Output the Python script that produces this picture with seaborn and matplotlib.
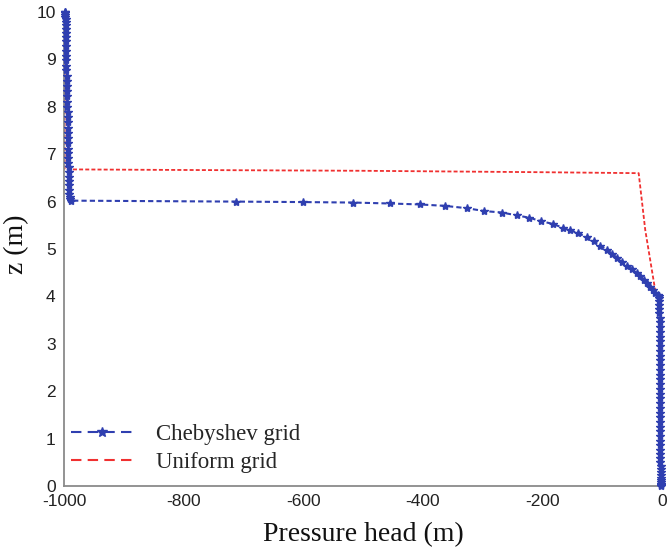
import matplotlib
matplotlib.use("Agg")
import matplotlib.pyplot as plt
from matplotlib.lines import Line2D
import seaborn as sns

# ---- data ----
# Chebyshev grid: upper vertical part (z 10 -> 6)
cheb_z_upper = [10.00, 9.99, 9.97, 9.94, 9.90, 9.85, 9.79, 9.72, 9.64, 9.56,
                9.47, 9.38, 9.28, 9.18, 9.08, 8.98, 8.87, 8.77, 8.66, 8.55,
                8.44, 8.33, 8.22, 8.11, 8.00, 7.89, 7.78, 7.67, 7.56, 7.45,
                7.34, 7.23, 7.12, 7.02, 6.92, 6.82, 6.72, 6.62, 6.52, 6.43,
                6.34, 6.25, 6.17, 6.10, 6.05, 6.02]
cheb_h_upper = [-998, -998, -998, -998, -998, -997, -997, -997, -997, -997,
                -997, -996, -996, -996, -996, -996, -996, -996, -995, -995,
                -995, -995, -995, -995, -995, -994, -994, -994, -994, -994,
                -994, -993, -993, -993, -993, -993, -992, -992, -992, -992,
                -991, -991, -991, -990, -990, -989]
# Chebyshev grid: front (z 6 -> 4)
cheb_z_front = [6.00, 5.99, 5.98, 5.96, 5.94, 5.91, 5.86, 5.80, 5.77, 5.71,
                5.66, 5.59, 5.53, 5.45, 5.40, 5.33, 5.25, 5.16, 5.07, 4.98,
                4.90, 4.81, 4.73, 4.65, 4.57, 4.49, 4.42, 4.35, 4.28, 4.20,
                4.14, 4.08, 4.03, 4.00]
cheb_h_front = [-712, -601, -517, -455, -405, -363, -326, -297, -268, -243,
                -222, -203, -183, -166, -154, -140, -126, -114, -103, -92,
                -83, -75, -67, -59, -50, -42, -36, -30, -25, -20,
                -15, -11, -7, -5]
# Chebyshev grid: lower vertical part (z 4 -> 0)
cheb_z_lower = [3.97, 3.90, 3.82, 3.73, 3.64, 3.55, 3.45, 3.35, 3.25, 3.15,
                3.05, 2.95, 2.85, 2.75, 2.65, 2.55, 2.45, 2.35, 2.25, 2.15,
                2.05, 1.95, 1.85, 1.75, 1.65, 1.55, 1.45, 1.35, 1.25, 1.15,
                1.05, 0.95, 0.86, 0.77, 0.68, 0.59, 0.51, 0.43, 0.36, 0.29,
                0.23, 0.17, 0.12, 0.08, 0.04, 0.02, 0.00]
cheb_h_lower = [-5, -5, -5, -5, -5, -4, -4, -4, -4, -4,
                -4, -4, -4, -4, -4, -4, -4, -3, -3, -3,
                -3, -3, -3, -3, -3, -3, -3, -3, -3, -3,
                -3, -3, -3, -3, -3, -3, -3, -2, -2, -2,
                -2, -2, -2, -2, -2, -2, -2]

unif_z = [10.0, 6.68, 6.67, 6.65, 6.62, 6.60, 5.40, 4.10, 3.90, 0.0]
unif_h = [-999, -999, -850, -500, -200, -39, -28, -11, -5, -2]

x_ticks = [-1000, -800, -600, -400, -200, 0]
y_ticks = [0, 1, 2, 3, 4, 5, 6, 7, 8, 9, 10]
legend_labels = ["Chebyshev grid", "Uniform grid"]

cheb_z = cheb_z_upper + cheb_z_front + cheb_z_lower
cheb_h = cheb_h_upper + cheb_h_front + cheb_h_lower

# ---- styling ----
sns.set_style("white")
plt.rcParams["font.family"] = ["Liberation Sans", "DejaVu Sans"]

BLUE = "#2f3fb0"
RED = "#f03030"
GRAY = "#8a8a8a"

fig = plt.figure(figsize=(6.68, 5.56), dpi=100)
ax = fig.add_axes([64 / 668, 70 / 556, 598 / 668, 474 / 556])

sns.lineplot(x=unif_h, y=unif_z, sort=False, estimator=None, ax=ax,
             color=RED, linewidth=1.3, linestyle=(0, (2.2, 1.2)), zorder=2)
sns.lineplot(x=cheb_h, y=cheb_z, sort=False, estimator=None, ax=ax,
             color=BLUE, linewidth=1.5, linestyle=(0, (2.5, 1.5)),
             marker="*", markersize=6, markeredgewidth=1.0,
             markeredgecolor=BLUE, markerfacecolor=BLUE, zorder=3,
             clip_on=False)

ax.set_xlim(-1000, 0)
ax.set_ylim(0, 10)
ax.set_xticks(x_ticks)
ax.set_xticklabels([str(t) for t in x_ticks])
ax.set_yticks(y_ticks)
ax.set_yticklabels([str(t) for t in y_ticks])

for side in ("top", "right"):
    ax.spines[side].set_visible(False)
for side in ("left", "bottom"):
    ax.spines[side].set_color(GRAY)
    ax.spines[side].set_linewidth(1.3)

ax.tick_params(axis="both", direction="in", length=4, width=1, color=GRAY,
               labelsize=12.5, labelcolor="#222222", pad=6)

ax.set_xlabel("Pressure head (m)", family=["Liberation Serif"], fontsize=20,
              labelpad=9, color="#111111")
ax.set_ylabel("z (m)", family=["Liberation Serif"], fontsize=20,
              color="#111111")
ax.yaxis.set_label_coords(-0.058, 0.51)

handles = [
    Line2D([], [], color=BLUE, linewidth=1.5, linestyle=(0, (5, 3)),
           marker="*", markersize=7, markerfacecolor=BLUE, markeredgecolor=BLUE),
    Line2D([], [], color=RED, linewidth=1.5, linestyle=(0, (5, 3))),
]
ax.legend(handles, legend_labels, loc="lower left",
          bbox_to_anchor=(0.012, 0.028), frameon=False,
          prop={"family": "Liberation Serif", "size": 16.5},
          handlelength=2.7, handletextpad=1.0, labelspacing=0.3,
          borderpad=0, borderaxespad=0)

fig.savefig("out.png", dpi=100)
